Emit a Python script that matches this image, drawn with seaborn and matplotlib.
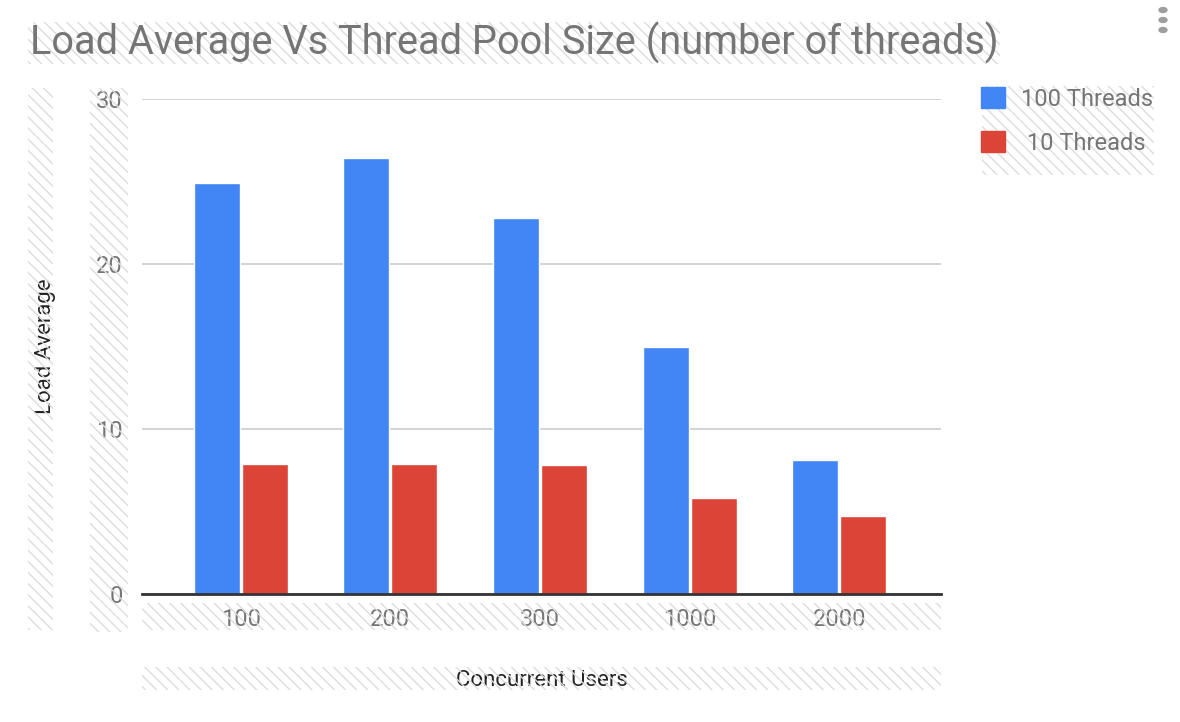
import pandas as pd
import matplotlib.pyplot as plt
import seaborn as sns
from matplotlib.patches import Rectangle, Patch, Circle

# data
users = ['100', '200', '300', '1000', '2000']
threads_100 = [24.9, 26.4, 22.8, 15.0, 8.1]
threads_10 = [7.9, 7.9, 7.8, 5.8, 4.7]
series_names = ['100 Threads', ' 10 Threads']
colors = ['#4285F4', '#DB4437']

df = pd.DataFrame({
    'Concurrent Users': users * 2,
    'Load Average': threads_100 + threads_10,
    'series': [series_names[0]] * len(users) + [series_names[1]] * len(users),
})

sns.set_theme(style='white')
plt.rcParams['font.family'] = ['Roboto', 'DejaVu Sans']

W, H = 1180, 722
fig = plt.figure(figsize=(W / 100, H / 100), dpi=100)
ax = fig.add_axes([142 / W, 1 - 594 / H, (941 - 142) / W, (594 - 99) / H])


def hatch_box(x0, y0, x1, y1):
    # light hatched backgrounds like the sheets editor
    r = Rectangle((x0 / W, 1 - y1 / H), (x1 - x0) / W, (y1 - y0) / H,
                  transform=fig.transFigure, facecolor='none', edgecolor='#dddddd',
                  hatch='\\\\\\', linewidth=0, zorder=0)
    fig.patches.append(r)


hatch_box(28, 22, 1000, 64)     # title
hatch_box(28, 88, 53, 630)      # y label
hatch_box(90, 88, 128, 632)     # y ticks
hatch_box(142, 603, 941, 630)   # x ticks
hatch_box(142, 667, 941, 690)   # x label
hatch_box(982, 86, 1154, 175)   # legend

sns.barplot(data=df, x='Concurrent Users', y='Load Average', hue='series',
            palette=colors, width=0.64, gap=0.04, saturation=1, ax=ax,
            legend=False, errorbar=None)

ax.set_xlim(-0.66, 4.68)
ax.set_ylim(0, 30)
ax.set_yticks([0, 10, 20, 30])
ax.yaxis.grid(True, color='#cccccc', linewidth=1.2)
ax.set_axisbelow(True)
for s in ['top', 'right', 'left']:
    ax.spines[s].set_visible(False)
ax.spines['bottom'].set_color('#333333')
ax.spines['bottom'].set_linewidth(2)
ax.patch.set_alpha(0)
ax.tick_params(axis='both', length=0, labelsize=17, labelcolor='#757575')
ax.tick_params(axis='y', pad=14)
ax.tick_params(axis='x', pad=10)

ax.set_xlabel('Concurrent Users', fontsize=16, color='#222222', labelpad=28)
ax.set_ylabel('Load Average', fontsize=16, color='#222222', labelpad=29)

fig.text(30 / W, 1 - 43 / H, 'Load Average Vs Thread Pool Size (number of threads)',
         fontsize=28.6, color='#757575', ha='left', va='center')

handles = [Patch(facecolor=c, edgecolor=c) for c in colors]
fig.legend(handles, series_names, loc='upper left',
           bbox_to_anchor=(960 / W, 1 - 66 / H), frameon=False, fontsize=17,
           handlelength=1.0, handleheight=1.0, handletextpad=0.7,
           labelspacing=0.85, labelcolor='#757575')

# menu dots top-right
for yy in [10, 20, 30]:
    fig.patches.append(Circle((1163 / W, 1 - yy / H), 4 / W,
                              transform=fig.transFigure, color='#9e9e9e'))

fig.savefig('out.png', dpi=100)
